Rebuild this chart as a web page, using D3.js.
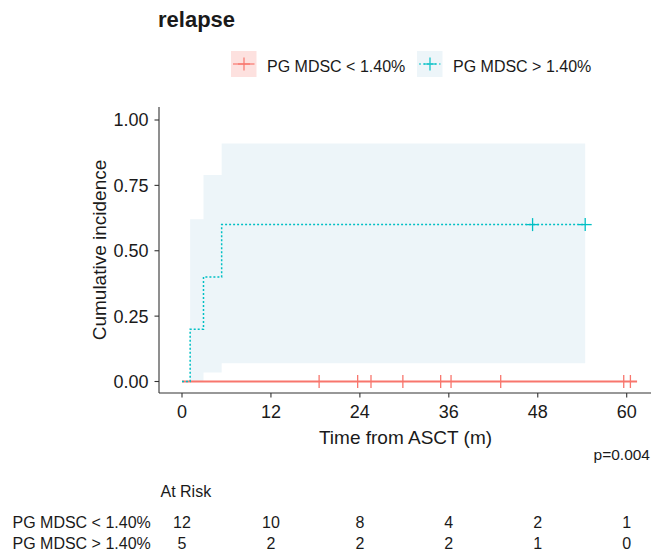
<!DOCTYPE html>
<html>
<head>
<meta charset="utf-8">
<script src="https://cdn.jsdelivr.net/npm/d3@7"></script>
<style>
  body { margin: 0; background: #fff; }
  svg text { font-family: "Liberation Sans", Arial, sans-serif; fill: #1a1a1a; }
</style>
</head>
<body>
<div id="chart"></div>
<script>
// groups
const groups = ["PG MDSC < 1.40%", "PG MDSC > 1.40%"]
const colors = ["#F8766D", "#00BFC4"]

// PG MDSC < 1.40% : no events
const lowTimes = [0, 61.4]
const lowEst = [0, 0]
const lowCensor = [18.5, 23.7, 25.5, 29.8, 34.9, 36.3, 43.0, 59.6, 60.5]

// PG MDSC > 1.40%
const highTimes = [0, 1.1, 2.9, 5.35, 54.4]
const highEst = [0, 0.2, 0.4, 0.6, 0.6]
const highUpper = [0, 0.62, 0.79, 0.91, 0.91]
const highLower = [0, 0, 0.034, 0.07, 0.07]
const highCensor = [47.3, 54.4]

// axes
const xTicks = [0, 12, 24, 36, 48, 60]
const yTicks = [0, 0.25, 0.5, 0.75, 1]

// number at risk
const riskTimes = [0, 12, 24, 36, 48, 60]
const riskLow = [12, 10, 8, 4, 2, 1]
const riskHigh = [5, 2, 2, 2, 1, 0]

const width = 651
const height = 558
const panel = { left: 159, right: 652, top: 107, bottom: 393 }

const svg = d3.select("#chart")
  .append("svg")
  .attr("width", width)
  .attr("height", height)

const xScale = d3.scaleLinear()
  .domain([0, 60])
  .range([182, 626.7])

const yScale = d3.scaleLinear()
  .domain([0, 1])
  .range([381.5, 120])

// title
svg.append("text")
  .attr("x", 158)
  .attr("y", 26.5)
  .attr("font-size", 22)
  .attr("font-weight", "bold")
  .text("relapse")

// legend
const legendKeys = [231, 417]
const legendText = [267, 453]
groups.forEach((g, i) => {
  const lg = svg.append("g").attr("transform", `translate(${legendKeys[i]}, 51)`)
  lg.append("rect")
    .attr("width", 25.5)
    .attr("height", 26)
    .attr("fill", i === 0 ? "#FDE1DF" : "#EDF5F9")
  lg.append("line")
    .attr("x1", 2).attr("x2", 23.5)
    .attr("y1", 13).attr("y2", 13)
    .attr("stroke", colors[i])
    .attr("stroke-width", 1.2)
    .attr("stroke-dasharray", i === 0 ? null : "2,2")
  lg.append("line")
    .attr("x1", 7).attr("x2", 19)
    .attr("y1", 13).attr("y2", 13)
    .attr("stroke", colors[i])
    .attr("stroke-width", 1.2)
  lg.append("line")
    .attr("x1", 13).attr("x2", 13)
    .attr("y1", 6.5).attr("y2", 19.5)
    .attr("stroke", colors[i])
    .attr("stroke-width", 1.2)
  svg.append("text")
    .attr("x", legendText[i])
    .attr("y", 72)
    .attr("font-size", 16)
    .text(g)
})

// confidence band
const bandData = highTimes.slice(1).map((t, i) => ({
  t: t,
  lo: highLower[i + 1],
  hi: highUpper[i + 1]
}))
const band = d3.area()
  .curve(d3.curveStepAfter)
  .x(d => xScale(d.t))
  .y0(d => yScale(d.lo))
  .y1(d => yScale(d.hi))

svg.append("path")
  .attr("d", band(bandData))
  .attr("fill", "#EDF5F9")

const step = d3.line()
  .curve(d3.curveStepAfter)
  .x(d => xScale(d[0]))
  .y(d => yScale(d[1]))

// low group curve
svg.append("path")
  .attr("d", step(d3.zip(lowTimes, lowEst)))
  .attr("fill", "none")
  .attr("stroke", colors[0])
  .attr("stroke-width", 2)

svg.selectAll(".cens-low")
  .data(lowCensor)
  .join("line")
  .attr("x1", d => xScale(d)).attr("x2", d => xScale(d))
  .attr("y1", yScale(0) - 6.5).attr("y2", yScale(0) + 6.5)
  .attr("stroke", colors[0])
  .attr("stroke-width", 1.3)

// high group curve
svg.append("path")
  .attr("d", step(d3.zip(highTimes, highEst)))
  .attr("fill", "none")
  .attr("stroke", colors[1])
  .attr("stroke-width", 1.5)
  .attr("stroke-dasharray", "2,2")

const cens = svg.selectAll(".cens-high")
  .data(highCensor)
  .join("g")
  .attr("transform", d => `translate(${xScale(d)}, ${yScale(0.6)})`)
cens.append("line")
  .attr("x1", -6.5).attr("x2", 6.5)
  .attr("stroke", colors[1]).attr("stroke-width", 1.3)
cens.append("line")
  .attr("y1", -6.5).attr("y2", 6.5)
  .attr("stroke", colors[1]).attr("stroke-width", 1.3)

// axes
const axisColor = "#333"
svg.append("line")
  .attr("x1", panel.left).attr("x2", panel.left)
  .attr("y1", panel.top).attr("y2", panel.bottom)
  .attr("stroke", axisColor).attr("stroke-width", 1.1)
svg.append("line")
  .attr("x1", panel.left).attr("x2", panel.right)
  .attr("y1", panel.bottom).attr("y2", panel.bottom)
  .attr("stroke", axisColor).attr("stroke-width", 1.1)

svg.selectAll(".ytick")
  .data(yTicks)
  .join("line")
  .attr("x1", panel.left - 4.5).attr("x2", panel.left)
  .attr("y1", d => yScale(d)).attr("y2", d => yScale(d))
  .attr("stroke", axisColor).attr("stroke-width", 1.1)

svg.selectAll(".ylab")
  .data(yTicks)
  .join("text")
  .attr("x", 148.5)
  .attr("y", d => yScale(d) + 6.4)
  .attr("text-anchor", "end")
  .attr("font-size", 18)
  .text(d3.format(".2f"))

svg.selectAll(".xtick")
  .data(xTicks)
  .join("line")
  .attr("x1", d => xScale(d)).attr("x2", d => xScale(d))
  .attr("y1", panel.bottom).attr("y2", panel.bottom + 4.5)
  .attr("stroke", axisColor).attr("stroke-width", 1.1)

svg.selectAll(".xlab")
  .data(xTicks)
  .join("text")
  .attr("x", d => xScale(d))
  .attr("y", 418)
  .attr("text-anchor", "middle")
  .attr("font-size", 18)
  .text(d => d)

svg.append("text")
  .attr("x", 405.5)
  .attr("y", 443.5)
  .attr("text-anchor", "middle")
  .attr("font-size", 19)
  .text("Time from ASCT (m)")

svg.append("text")
  .attr("transform", "translate(105.5, 250) rotate(-90)")
  .attr("text-anchor", "middle")
  .attr("font-size", 19)
  .text("Cumulative incidence")

svg.append("text")
  .attr("x", 650)
  .attr("y", 459.5)
  .attr("text-anchor", "end")
  .attr("font-size", 15.5)
  .text("p=0.004")

// risk table
svg.append("text")
  .attr("x", 160.5)
  .attr("y", 497)
  .attr("font-size", 16)
  .text("At Risk")

const rows = [riskLow, riskHigh]
const rowY = [528, 549]
rows.forEach((r, i) => {
  svg.append("text")
    .attr("x", 12.5)
    .attr("y", rowY[i])
    .attr("font-size", 16)
    .text(groups[i])
  svg.selectAll(".risk" + i)
    .data(riskTimes)
    .join("text")
    .attr("x", d => xScale(d))
    .attr("y", rowY[i])
    .attr("text-anchor", "middle")
    .attr("font-size", 16)
    .text((d, j) => r[j])
})
</script>
</body>
</html>
